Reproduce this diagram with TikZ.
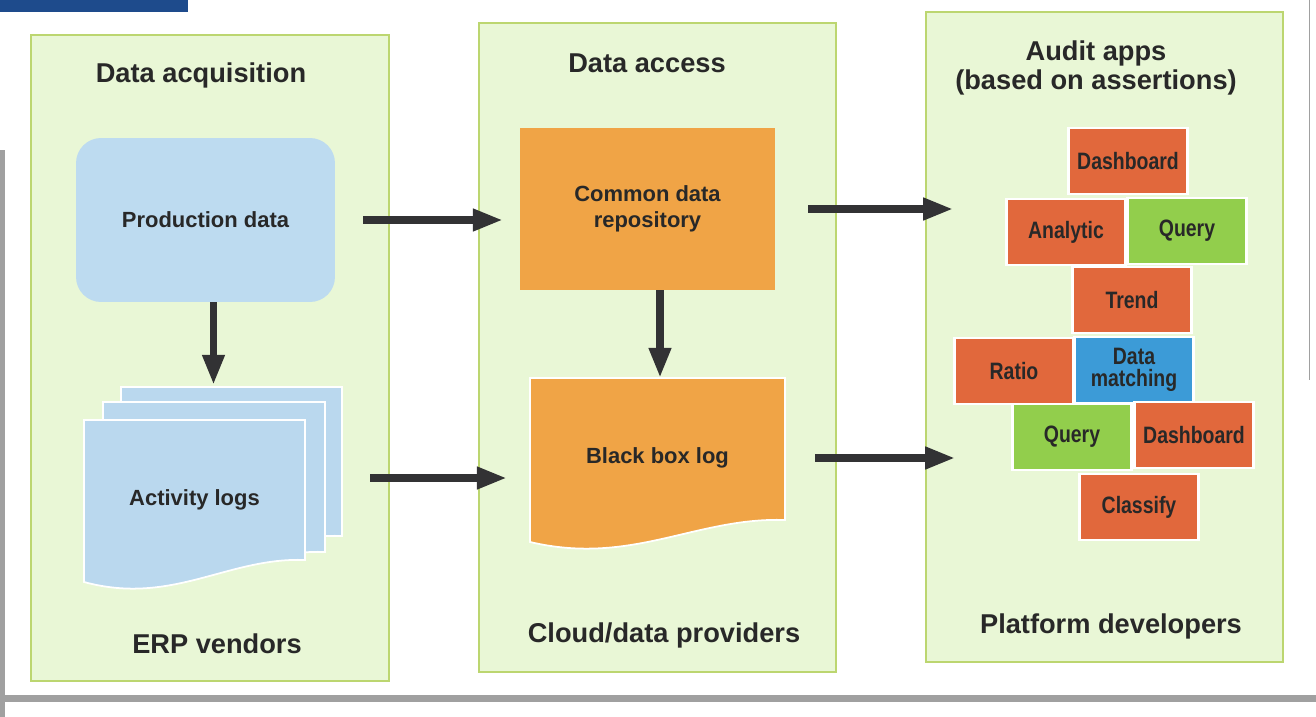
\documentclass[tikz,border=0pt]{standalone}
\usepackage{fontspec}
\setmainfont{Liberation Sans}
\newfontfamily\tilefont[FakeStretch=0.82]{Liberation Sans}
\usetikzlibrary{arrows.meta}
\definecolor{panelgreen}{RGB}{233,247,214}
\definecolor{panelline}{RGB}{188,214,112}
\definecolor{prodblue}{RGB}{189,219,240}
\definecolor{logblue}{RGB}{186,216,238}
\definecolor{repoorange}{RGB}{240,164,70}
\definecolor{tileorange}{RGB}{225,104,60}
\definecolor{tilegreen}{RGB}{146,206,76}
\definecolor{tileblue}{RGB}{60,155,215}
\definecolor{inkgray}{RGB}{40,40,40}
\definecolor{arrowgray}{RGB}{50,50,52}
\definecolor{framegray}{RGB}{160,160,160}
\definecolor{topblue}{RGB}{30,75,140}
\newcommand{\logsheet}[5]{%
  \path[fill=#5,draw=white,line width=1pt] (#1,#2) -- (#3,#2) -- (#3,{#4-22})
    .. controls ({#3-0.35*(#3-#1)},{#4-25}) and ({#1+0.4*(#3-#1)},{#4+24}) .. (#1,#4) -- cycle;}

\begin{document}
\begin{tikzpicture}[x=0.02cm,y=-0.02cm]
	\tikzset{panel/.style={fill=panelgreen,draw=panelline,line width=0.6pt},
		heading/.style={font=\bfseries\fontsize{15.5}{17}\selectfont,text=inkgray,align=center},
		boxtext/.style={font=\bfseries\fontsize{12.5}{14.7}\selectfont,text=inkgray,align=center,inner sep=0pt},
		tile/.style={draw=white,line width=1.5pt,minimum width=2.38cm,minimum height=1.32cm,inner sep=0pt,
			font=\tilefont\bfseries\fontsize{13.5}{12.5}\selectfont,text=inkgray,align=center},
		flow/.style={-{Triangle[length=17pt,width=12pt]},line width=4pt,draw=arrowgray}}
	\useasboundingbox (0,0) rectangle (1316,717);
	\fill[white] (0,0) rectangle (1316,717);
	\fill[topblue] (0,0) rectangle (188,12);
	\fill[framegray] (0,150) rectangle (5,717);
	\fill[framegray] (0,695) rectangle (1316,702);
	\draw[framegray,line width=0.5pt] (1309,0) -- (1309,380);

	\path[panel] (31,35) rectangle (389,681);
	\path[panel] (479,23) rectangle (836,672);
	\path[panel] (926,12) rectangle (1283,662);

	\node[heading] (acqtitle) at (201,75) {Data acquisition};
	\node[heading] (accesstitle) at (647,63) {Data access};
	\node[heading] (appstitle) at (1096,68) {Audit apps\\(based on assertions)};
	\node[heading] (erp) at (217,644) {ERP vendors};
	\node[heading] (cloud) at (664,635) {Cloud/data providers};
	\node[heading] (platform) at (1111,626) {Platform developers};

	\node[boxtext,fill=prodblue,rounded corners=0.5cm,minimum width=5.18cm,minimum height=3.28cm] (prod) at (205.5,220) {Production data};
	\logsheet{121}{387}{342}{558}{logblue}
	\logsheet{103}{402}{325}{574}{logblue}
	\logsheet{84}{420}{305}{582}{logblue}
	\node[boxtext,minimum width=4.42cm,minimum height=3.2cm] (logs) at (194.5,500) {Activity logs};

	\node[boxtext,fill=repoorange,minimum width=5.1cm,minimum height=3.24cm] (repo) at (647.5,209) {Common data\\repository};
	\logsheet{530}{378}{785}{542}{repoorange}
	\node[boxtext,minimum width=5.1cm,minimum height=3.2cm] (blackbox) at (657.5,458) {Black box log};

	\node[tile,fill=tileorange] (dash1) at (1128,161) {Dashboard};
	\node[tile,fill=tileorange] (analytic) at (1066,232) {Analytic};
	\node[tile,fill=tilegreen] (query1) at (1187,231) {Query};
	\node[tile,fill=tileorange] (trend) at (1132,300) {Trend};
	\node[tile,fill=tileorange] (ratio) at (1014,371) {Ratio};
	\node[tile,fill=tileblue] (matching) at (1134,370) {Data\\matching};
	\node[tile,fill=tilegreen] (query2) at (1072,437) {Query};
	\node[tile,fill=tileorange] (dash2) at (1194,435) {Dashboard};
	\node[tile,fill=tileorange] (classify) at (1139,507) {Classify};

	\coordinate (appsin) at (953,209);
	\coordinate (appsout) at (955,458);
	\draw[flow,shorten <=0.56cm,shorten >=0.34cm] (prod.east) -- (prod.east -| repo.west);
	\draw[flow,shorten >=0.7cm] ([xshift=0.16cm]prod.south) -- ([xshift=0.16cm]prod.south |- logs.north);
	\draw[flow,shorten <=1.3cm,shorten >=0.46cm] ([yshift=0.44cm]logs.east) -- ([yshift=0.44cm]logs.east -| blackbox.west);
	\draw[flow] ([xshift=0.25cm]repo.south) -- ([xshift=0.25cm]repo.south |- blackbox.north);
	\draw[flow,shorten <=0.66cm] (repo.east) -- (appsin);
	\draw[flow,shorten <=0.6cm] (blackbox.east) -- (appsout);
\end{tikzpicture}
\end{document}
